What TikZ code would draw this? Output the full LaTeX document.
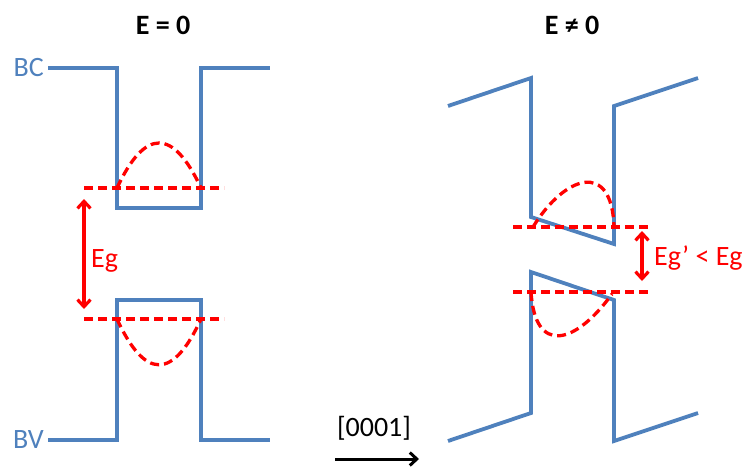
\documentclass[tikz,border=0pt]{standalone}
\usepackage{fontspec}
\setmainfont{Carlito}
\usetikzlibrary{arrows.meta}
\definecolor{bandblue}{RGB}{79,129,189}
\begin{document}
\begin{tikzpicture}[x=1pt,y=-1pt,
  bandline/.style={draw=bandblue, line width=3.8pt, line join=miter},
  wave/.style={draw=red, line width=3.3pt, dash pattern=on 9pt off 5pt},
  gaparrow/.style={draw=red, line width=3.2pt, {Straight Barb[length=7pt,width=13pt]}-{Straight Barb[length=7pt,width=13pt]}},
  dirarrow/.style={draw=black, line width=3pt, -{Straight Barb[length=7pt,width=13pt]}},
  lbl/.style={inner sep=0pt, font=\fontsize{28}{33}\selectfont},
  title/.style={lbl, font=\fontsize{28}{33}\selectfont\bfseries}]
\useasboundingbox (0,0) rectangle (747,467);

% titles
\node[title] (t1) at (163,25) {E = 0};
\node[title] (t2) at (572,25) {E ≠ 0};

% ---------- left: E = 0 ----------
\node[lbl, text=bandblue, anchor=east] (bc) at (44,68) {BC};
\node[lbl, text=bandblue, anchor=east] (bv) at (44,440) {BV};

\draw[bandline] (48,68) -- (117,68) -- (117,208) -- (201,208) -- (201,68) -- (270,68);
\draw[bandline] (48,440) -- (117,440) -- (117,300) -- (201,300) -- (201,440) -- (270,440);

\draw[wave] (84,188) -- (224,188);
\draw[wave] (84,319) -- (224,319);
\draw[wave] (117,188) .. controls (145,128) and (173,128) .. (201,188);
\draw[wave] (117,319) .. controls (145,380) and (173,380) .. (201,319);

\coordinate (ga) at (84,199);
\coordinate (gb) at (84,309);
\draw[gaparrow] (ga) -- (gb);
\node[lbl, text=red, anchor=west] (eg) at (91,261) {Eg};

% ---------- right: E != 0 ----------
\draw[bandline] (448,106) -- (531,78) -- (531,217) -- (614,244) -- (614,106) -- (698,78);
\draw[bandline] (448,441) -- (531,413) -- (531,272) -- (614,300) -- (614,441) -- (698,413);

\draw[wave] (513,227) -- (652,227);
\draw[wave] (513,292) -- (652,292);
\draw[wave] (533,227) .. controls (565,175) and (612,160) .. (614,227);
\draw[wave] (531,292) .. controls (535,355) and (575,345) .. (612,294);

\coordinate (gc) at (642,231);
\coordinate (gd) at (642,281);
\draw[gaparrow] (gc) -- (gd);
\node[lbl, text=red, anchor=west] (egp) at (654,258) {Eg’ < Eg};

% ---------- direction ----------
\node[lbl] (dir) at (374,428) {[0001]};
\coordinate (da) at (335,459);
\coordinate (db) at (419,459);
\draw[dirarrow] (da) -- (db);
\end{tikzpicture}
\end{document}
